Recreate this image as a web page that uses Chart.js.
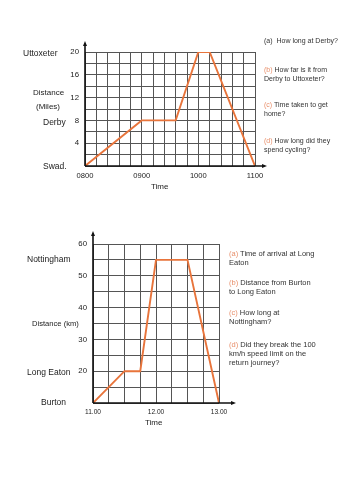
<!DOCTYPE html>
<html>
<head>
<meta charset="utf-8">
<script src="https://cdn.jsdelivr.net/npm/chart.js@4.4.1/dist/chart.umd.min.js"></script>
<style>
  body { margin: 0; background: #fff; }
  #page { position: relative; width: 353px; height: 500px; overflow: hidden;
          font-family: "Liberation Sans", Arial, sans-serif; color: #222; }
  #page canvas { position: absolute; left: 0; }
  .lbl { position: absolute; white-space: nowrap; line-height: 10px; font-size: 8.5px; }
  .q { position: absolute; white-space: nowrap; color: #333; }
  .q span { color: #e8906c; }
  .q1 { font-size: 7px; line-height: 8.5px; left: 264px; }
  .q2 { font-size: 7.5px; line-height: 9px; left: 229px; }
</style>
</head>
<body>
<div id="page">
  <canvas id="c1" width="290" height="200" style="top:0"></canvas>
  <canvas id="c2" width="260" height="240" style="top:200px"></canvas>

  <div class="lbl" style="left:23px;top:48px">Uttoxeter</div>
  <div class="lbl" style="left:33px;top:88px;font-size:8px">Distance</div>
  <div class="lbl" style="left:36px;top:102px;font-size:8px">(Miles)</div>
  <div class="lbl" style="left:43px;top:117px">Derby</div>
  <div class="lbl" style="left:43px;top:161px">Swad.</div>
  <div class="lbl" style="left:151px;top:182px;font-size:8px">Time</div>

  <div class="lbl" style="left:27px;top:254px">Nottingham</div>
  <div class="lbl" style="left:32px;top:319px;font-size:7.6px">Distance (km)</div>
  <div class="lbl" style="left:27px;top:367px">Long Eaton</div>
  <div class="lbl" style="left:41px;top:397px">Burton</div>
  <div class="lbl" style="left:145px;top:418px;font-size:8px">Time</div>

  <div class="q q1" style="top:37px">(a)&nbsp; How long at Derby?</div>
  <div class="q q1" style="top:66px"><span>(b)</span> How far is it from<br>Derby to Uttoxeter?</div>
  <div class="q q1" style="top:101px"><span>(c)</span> Time taken to get<br>home?</div>
  <div class="q q1" style="top:137px"><span>(d)</span> How long did they<br>spend cycling?</div>

  <div class="q q2" style="top:249px"><span>(a)</span> Time of arrival at Long<br>Eaton</div>
  <div class="q q2" style="top:278px"><span>(b)</span> Distance from Burton<br>to Long Eaton</div>
  <div class="q q2" style="top:308px"><span>(c)</span> How long at<br>Nottingham?</div>
  <div class="q q2" style="top:340px"><span>(d)</span> Did they break the 100<br>km/h speed limit on the<br>return journey?</div>
</div>

<script>
// ── data: times in minutes after midnight ──
const topTimes = [480, 540, 576, 600, 612, 660];
const topMiles = [0, 8, 8, 20, 20, 0];
const topTimeLabels = ['0800', '0900', '1000', '1100'];
const topDistTicks = [4, 8, 12, 16, 20];

const botTimes = [660, 690, 705, 720, 750, 780];
const botKm = [10, 20, 20, 55, 55, 10];
const botTimeLabels = ['11.00', '12.00', '13.00'];
const botDistTicks = [20, 30, 40, 50, 60];

const LINE = '#e8743b';
const GRID = '#555';
const FONT = "'Liberation Sans', Arial, sans-serif";

// axes with arrow heads, drawn past the grid
const axisArrows = {
  id: 'axisArrows',
  afterDraw(chart, args, o) {
    const { ctx, chartArea: a } = chart;
    ctx.save();
    ctx.strokeStyle = '#111';
    ctx.fillStyle = '#111';
    ctx.lineWidth = 1.6;
    ctx.beginPath();
    ctx.moveTo(a.left, a.bottom);
    ctx.lineTo(a.left, a.top - o.up);
    ctx.moveTo(a.left, a.bottom);
    ctx.lineTo(a.right + o.right, a.bottom);
    ctx.stroke();
    ctx.beginPath();
    ctx.moveTo(a.left, a.top - o.up - 3);
    ctx.lineTo(a.left - 2, a.top - o.up + 2);
    ctx.lineTo(a.left + 2, a.top - o.up + 2);
    ctx.closePath();
    ctx.moveTo(a.right + o.right + 3, a.bottom);
    ctx.lineTo(a.right + o.right - 2, a.bottom - 2);
    ctx.lineTo(a.right + o.right - 2, a.bottom + 2);
    ctx.closePath();
    ctx.fill();
    ctx.restore();
  }
};

function timeChart(id, cfg) {
  return new Chart(document.getElementById(id), {
    type: 'line',
    data: {
      datasets: [{
        data: cfg.xs.map((x, i) => ({ x, y: cfg.ys[i] })),
        borderColor: LINE,
        borderWidth: 1.9,
        pointRadius: 0,
        tension: 0,
        fill: false,
      }]
    },
    options: {
      responsive: false,
      animation: false,
      devicePixelRatio: 1,
      layout: { padding: { top: cfg.top, right: cfg.right, left: 0, bottom: 0 } },
      plugins: { legend: { display: false }, tooltip: { enabled: false }, axisArrows: cfg.arrows },
      scales: {
        x: {
          type: 'linear',
          min: cfg.xMin, max: cfg.xMax,
          afterFit: s => { s.height = cfg.xHeight; },
          border: { display: false },
          grid: { color: GRID, lineWidth: 1, drawTicks: false },
          ticks: {
            stepSize: cfg.xStep, autoSkip: false, maxRotation: 0, padding: 5,
            color: '#222', font: { family: FONT, size: cfg.xFont },
            callback: v => (v - cfg.xMin) % 60 === 0 ? cfg.xLabels[(v - cfg.xMin) / 60] : ''
          }
        },
        y: {
          min: cfg.yMin, max: cfg.yMax,
          afterFit: s => { s.width = cfg.yWidth; },
          border: { display: false },
          grid: { color: GRID, lineWidth: 1, drawTicks: false },
          ticks: {
            stepSize: cfg.yStep, autoSkip: false, padding: 6,
            color: '#222', font: { family: FONT, size: 7.8 },
            callback: v => cfg.yLabels.includes(v) ? String(v) : ''
          }
        }
      }
    },
    plugins: [axisArrows]
  });
}

timeChart('c1', {
  xs: topTimes, ys: topMiles, xMin: 480, xMax: 660, xStep: 12, xLabels: topTimeLabels, xFont: 7.6,
  yMin: 0, yMax: 20, yStep: 2, yLabels: topDistTicks,
  top: 52, right: 35, yWidth: 85, xHeight: 34, arrows: { up: 8, right: 9 }
});

timeChart('c2', {
  xs: botTimes, ys: botKm, xMin: 660, xMax: 780, xStep: 15, xLabels: botTimeLabels, xFont: 6.6,
  yMin: 10, yMax: 60, yStep: 5, yLabels: botDistTicks,
  top: 44, right: 41, yWidth: 93, xHeight: 37, arrows: { up: 10, right: 14 }
});
</script>
</body>
</html>
